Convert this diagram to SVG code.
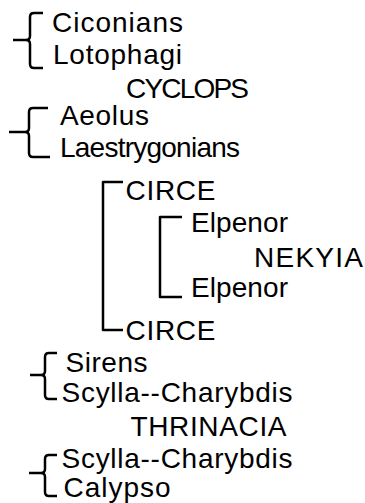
<svg xmlns="http://www.w3.org/2000/svg" width="365" height="503" viewBox="0 0 365 503">
<style>
text{font-family:"Liberation Sans",Arial,sans-serif;font-size:28px;fill:#000}
.br{fill:none;stroke:#000;stroke-width:2.5;stroke-linecap:butt;stroke-linejoin:round}
</style>
<rect width="365" height="503" fill="#fff"/>
<g id="connectors">
<path class="br" d="M43,13 H34 Q30,13 30,17 V36 Q30,40 26,40 H13 M26,40 Q30,40 30,44 V64 Q30,68 34,68 H43"/>
<path class="br" d="M48,108 H33 Q29,108 29,112 V128 Q29,132 25,132 H9 M25,132 Q29,132 29,136 V153 Q29,157 33,157 H50"/>
<path class="br" d="M123,182 H103 V330 H123"/>
<path class="br" d="M182,217 H160 V297 H182"/>
<path class="br" d="M57,353 H49 Q45,353 45,357 V371 Q45,375 41,375 H30 M41,375 Q45,375 45,379 V395 Q45,399 49,399 H57"/>
<path class="br" d="M57,455 H49 Q45,455 45,459 V469 Q45,473 41,473 H29 M41,473 Q45,473 45,477 V492 Q45,496 49,496 H57"/>
</g>
<g id="ciconians"><text x="52" y="31.5" textLength="131" lengthAdjust="spacing">Ciconians</text></g>
<g id="lotophagi"><text x="53" y="64" textLength="129" lengthAdjust="spacing">Lotophagi</text></g>
<g id="cyclops"><text x="126" y="97.5" textLength="123" lengthAdjust="spacing">CYCLOPS</text></g>
<g id="aeolus"><text x="60" y="125" textLength="89" lengthAdjust="spacing">Aeolus</text></g>
<g id="laestrygonians"><text x="60" y="157" textLength="180" lengthAdjust="spacing">Laestrygonians</text></g>
<g id="circe1"><text x="125.5" y="200" textLength="90" lengthAdjust="spacing">CIRCE</text></g>
<g id="elpenor1"><text x="191" y="232" textLength="97" lengthAdjust="spacing">Elpenor</text></g>
<g id="nekyia"><text x="254" y="267" textLength="109" lengthAdjust="spacing">NEKYIA</text></g>
<g id="elpenor2"><text x="191" y="297" textLength="97" lengthAdjust="spacing">Elpenor</text></g>
<g id="circe2"><text x="125.5" y="340" textLength="90" lengthAdjust="spacing">CIRCE</text></g>
<g id="sirens"><text x="65.5" y="372" textLength="82" lengthAdjust="spacing">Sirens</text></g>
<g id="scylla1"><text x="61.5" y="401.5" textLength="231" lengthAdjust="spacing">Scylla--Charybdis</text></g>
<g id="thrinacia"><text x="130.5" y="436" textLength="156" lengthAdjust="spacing">THRINACIA</text></g>
<g id="scylla2"><text x="61.5" y="468" textLength="231" lengthAdjust="spacing">Scylla--Charybdis</text></g>
<g id="calypso"><text x="63.5" y="497" textLength="107" lengthAdjust="spacing">Calypso</text></g>
</svg>
